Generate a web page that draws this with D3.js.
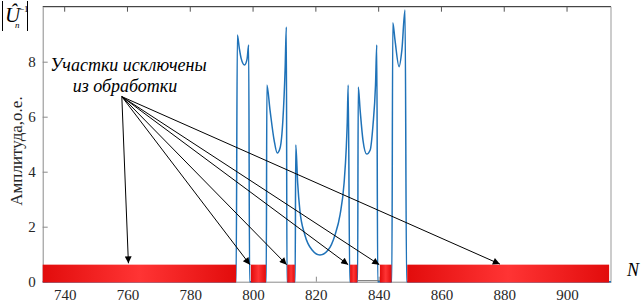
<!DOCTYPE html>
<html>
<head>
<meta charset="utf-8">
<script src="https://cdn.jsdelivr.net/npm/d3@7"></script>
<style>
  body { margin: 0; background: #fff; }
  svg { display: block; }
  svg text { font-family: "Liberation Serif", "Times New Roman", "DejaVu Serif", serif; }
</style>
</head>
<body>
<script>
// данные
const xTicks = [740, 760, 780, 800, 820, 840, 860, 880, 900];
const yTicks = [0, 2, 4, 6, 8];

// |U_n^-1| по номеру отсчёта N
const curveN = [733, 794.6, 795.0, 795.6, 796.2, 797.3, 798.1, 798.6, 798.9,
  804.2, 804.4, 805.4, 806.7, 807.7, 808.6, 809.5, 810.2, 810.6, 810.8,
  813.4, 813.6, 814.2, 814.9, 816.5, 818.8, 821.3, 823.9, 826.1, 827.7, 829.0, 829.7, 830.0, 830.3, 830.8,
  833.3, 833.5, 834.1, 835.0, 836.2, 837.3, 838.2, 839.0, 839.4, 839.7,
  844.2, 844.5, 845.2, 846.5, 847.4, 848.4, 848.9, 914];
const curveA = [0, 0, 8.97, 8.5, 8.12, 7.88, 8.1, 8.61, 0,
  0, 7.15, 6.24, 5.15, 4.68, 4.86, 5.88, 7.7, 9.26, 0,
  0, 4.97, 3.6, 2.6, 1.7, 1.15, 0.97, 1.15, 1.7, 2.43, 3.6, 4.9, 5.8, 7.15, 0,
  0, 7.08, 6.24, 5.15, 4.64, 4.79, 5.7, 7.15, 8.61, 0,
  0, 9.42, 8.79, 7.82, 8.43, 9.88, 0, 0];

// участки, исключённые из обработки [начало, конец]
const excludedStart = [733, 799.3, 810.9, 830.9, 840.4, 849.1];
const excludedEnd = [794.6, 804.1, 813.3, 833.2, 844.1, 913.4];
const barBottom = -0.03;
const barTop = 0.62;

// тонкая линия у нуля между 833 и 840
const gapN = [833.2, 840.4];
const gapA = [0.04, 0.04];

// стрелки подписи
const arrowFrom = [758.2, 6.73];
const arrowToN = [760.3, 799.0, 810.7, 830.3, 840.2, 878.6];
const arrowToA = [0.67, 0.62, 0.62, 0.62, 0.62, 0.64];

const noteLines = ["Участки исключены", "из обработки"];
const noteN = [760.3, 759.2];
const noteA = [7.67, 6.9];

const width = 641, height = 302;
const mLeft = 42.7, mRight = 611, mTop = 6.7, mBottom = 281.7;
const serif = "'Liberation Serif', 'Times New Roman', 'DejaVu Serif', serif";

const svg = d3.select("body").append("svg")
  .attr("width", width)
  .attr("height", height)
  .attr("font-family", serif);

const x = d3.scaleLinear().domain([733, 914]).range([mLeft, mRight]);
const y = d3.scaleLinear().domain([0, 10]).range([mBottom, mTop]);

const defs = svg.append("defs");
const grad = defs.append("linearGradient")
  .attr("id", "barGrad")
  .attr("x1", "0").attr("x2", "1").attr("y1", "0").attr("y2", "0");
grad.append("stop").attr("offset", "0%").attr("stop-color", "#e20c0c");
grad.append("stop").attr("offset", "50%").attr("stop-color", "#ff3434");
grad.append("stop").attr("offset", "100%").attr("stop-color", "#e20c0c");

defs.append("marker")
  .attr("id", "arrow")
  .attr("viewBox", "0 0 10 10")
  .attr("refX", 10).attr("refY", 5)
  .attr("markerUnits", "userSpaceOnUse")
  .attr("markerWidth", 10).attr("markerHeight", 7)
  .attr("orient", "auto")
  .append("path")
  .attr("d", "M0,0 L10,5 L0,10 Z")
  .attr("fill", "#000");

// рамка
svg.append("line").attr("x1", mLeft).attr("x2", mRight).attr("y1", mTop).attr("y2", mTop)
  .attr("stroke", "#1a1a1a").attr("stroke-width", 1);
svg.append("line").attr("x1", mRight).attr("x2", mRight).attr("y1", mTop).attr("y2", mBottom)
  .attr("stroke", "#999").attr("stroke-width", 1);

// оси
const xAxis = d3.axisBottom(x).tickValues(xTicks).tickSizeInner(-5).tickSizeOuter(0).tickPadding(9);
const yAxis = d3.axisLeft(y).tickValues(yTicks).tickSizeInner(-5).tickSizeOuter(0).tickPadding(7);

const gx = svg.append("g").attr("transform", `translate(0,${mBottom})`).call(xAxis);
const gy = svg.append("g").attr("transform", `translate(${mLeft},0)`).call(yAxis);
[gx, gy].forEach(g => {
  g.attr("font-family", serif).attr("font-size", 15);
  g.select(".domain").attr("stroke", "#8a8a8a");
  g.selectAll(".tick line").attr("stroke", "#8a8a8a");
  g.selectAll("text").attr("fill", "#262626");
});
gx.selectAll("text").attr("dy", "0").attr("y", 18.8);

// верхние засечки
svg.append("g").selectAll("line").data(xTicks).join("line")
  .attr("x1", d => x(d)).attr("x2", d => x(d))
  .attr("y1", mTop).attr("y2", mTop + 5)
  .attr("stroke", "#555");

// кривая
const pts = curveN.map((n, i) => [n, curveA[i]]);
svg.append("path")
  .datum(pts)
  .attr("d", d3.line().x(d => x(d[0])).y(d => y(d[1])).curve(d3.curveMonotoneX))
  .attr("fill", "none")
  .attr("stroke", "#1f72b8")
  .attr("stroke-width", 1.5)
  .attr("stroke-linejoin", "round");

svg.append("path")
  .datum(gapN.map((n, i) => [n, gapA[i]]))
  .attr("d", d3.line().x(d => x(d[0])).y(d => y(d[1])))
  .attr("stroke", "#777")
  .attr("stroke-width", 1);

// исключённые участки
svg.append("g").selectAll("rect")
  .data(excludedStart.map((s, i) => [s, excludedEnd[i]]))
  .join("rect")
  .attr("x", d => x(d[0]))
  .attr("width", d => x(d[1]) - x(d[0]))
  .attr("y", y(barTop))
  .attr("height", y(barBottom) - y(barTop))
  .attr("fill", "url(#barGrad)");

// подпись и стрелки
svg.append("g").selectAll("line")
  .data(arrowToN.map((n, i) => [n, arrowToA[i]]))
  .join("line")
  .attr("x1", x(arrowFrom[0])).attr("y1", y(arrowFrom[1]))
  .attr("x2", d => x(d[0])).attr("y2", d => y(d[1]))
  .attr("stroke", "#000")
  .attr("stroke-width", 1)
  .attr("marker-end", "url(#arrow)");

svg.append("g").selectAll("text")
  .data(noteLines)
  .join("text")
  .attr("x", (d, i) => x(noteN[i]))
  .attr("y", (d, i) => y(noteA[i]))
  .attr("text-anchor", "middle")
  .attr("font-style", "italic")
  .attr("font-size", 18)
  .attr("fill", "#000")
  .text(d => d);

// подписи осей
svg.append("text")
  .attr("transform", "translate(22,151) rotate(-90)")
  .attr("text-anchor", "middle")
  .attr("font-size", 17)
  .attr("fill", "#262626")
  .text("Амплитуда,о.е.");

svg.append("text")
  .attr("x", 627).attr("y", 276)
  .attr("font-style", "italic")
  .attr("font-size", 18)
  .text("N");

// |Û_n^-1|
const lab = svg.append("g");
lab.append("line").attr("x1", 2.5).attr("x2", 2.5).attr("y1", 1).attr("y2", 31).attr("stroke", "#000").attr("stroke-width", 1);
lab.append("line").attr("x1", 27.5).attr("x2", 27.5).attr("y1", 1).attr("y2", 31).attr("stroke", "#000").attr("stroke-width", 1);
lab.append("text").attr("x", 5).attr("y", 22).attr("font-style", "italic").attr("font-size", 21).text("Û");
lab.append("text").attr("x", 15).attr("y", 28).attr("font-style", "italic").attr("font-size", 9).text("n");
lab.append("text").attr("x", 19).attr("y", 12).attr("font-size", 9).text("−1");
</script>
</body>
</html>
